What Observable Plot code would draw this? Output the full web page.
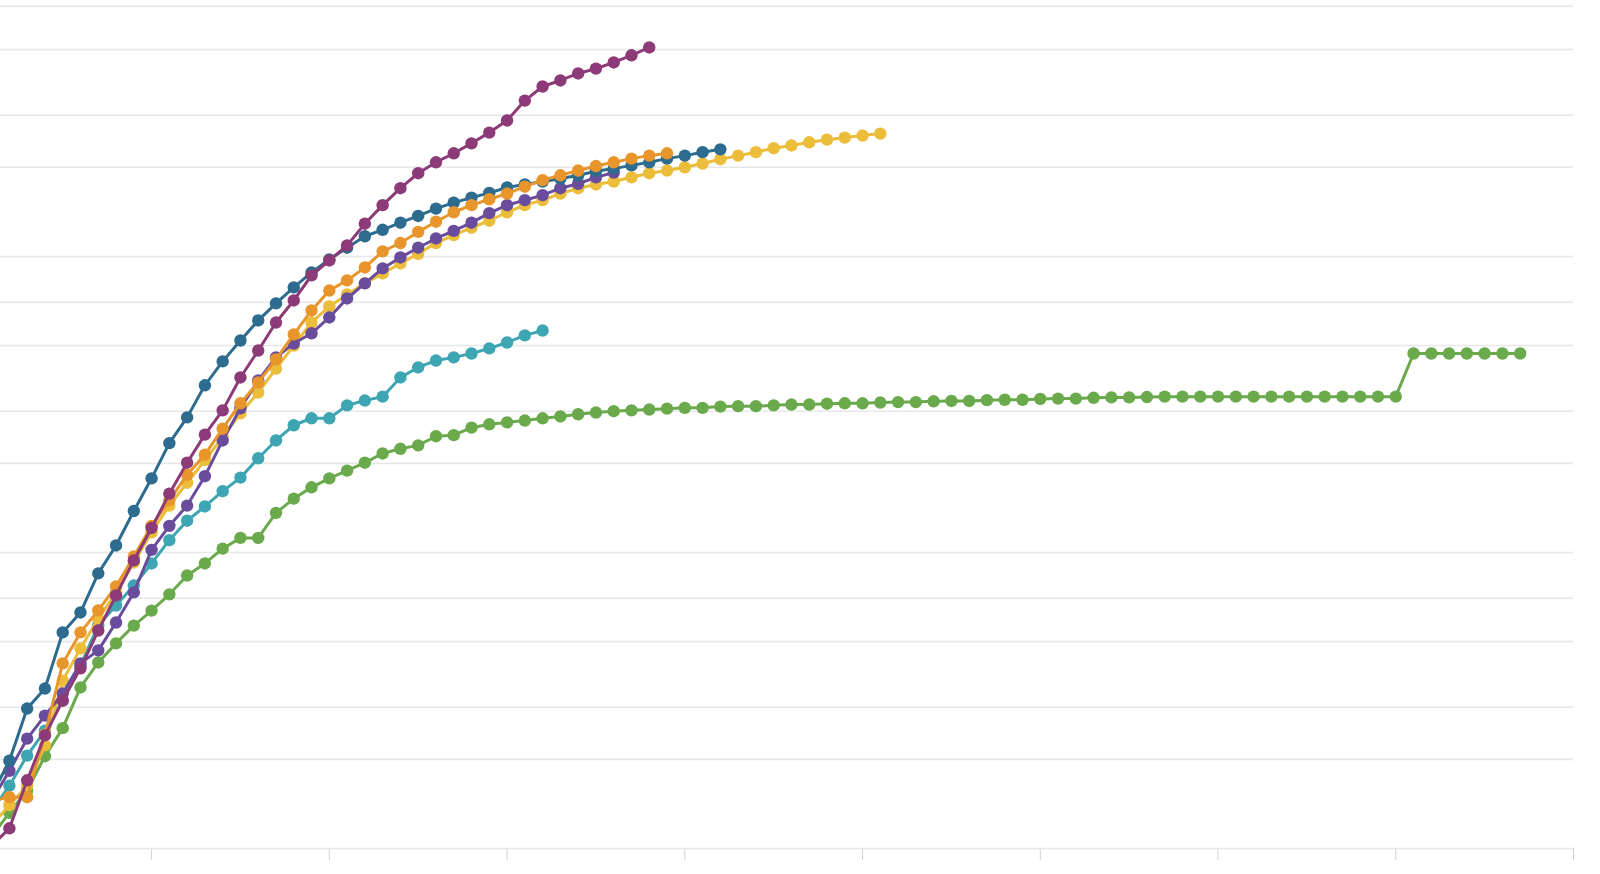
<!DOCTYPE html>
<html><head><meta charset="utf-8">
<script src="https://cdn.jsdelivr.net/npm/d3@7"></script>
<script src="https://cdn.jsdelivr.net/npm/@observablehq/plot@0.6"></script>
<style>html,body{margin:0;padding:0;background:#fff;} svg{display:block}</style>
</head><body><div id="chart"></div>
<script>
// Each series starts at day 1; one value per day.
const seriesG = [1.10, 1.32, 1.57, 2.05, 2.55, 3.50, 4.25, 4.93, 5.66, 6.36, 7.22, 8.36, 9.18, 10.3, 11.2, 11.2, 13.6, 15.2, 16.6, 17.8,
  18.9, 20.1, 21.6, 22.4, 23.0, 24.7, 24.9, 26.4, 27.1, 27.5, 27.9, 28.4, 28.8, 29.3, 29.7, 30.0, 30.2, 30.4, 30.6, 30.8,
  30.8, 31.1, 31.2, 31.2, 31.4, 31.6, 31.6, 31.8, 31.9, 31.9, 32.1, 32.2, 32.2, 32.4, 32.5, 32.5, 32.7, 32.8, 32.8, 33.0,
  33.1, 33.1, 33.3, 33.4, 33.4, 33.5, 33.6, 33.6, 33.6, 33.6, 33.6, 33.6, 33.6, 33.6, 33.6, 33.6, 33.6, 33.6, 33.6, 33.6,
  47.0, 47.0, 47.0, 47.0, 47.0, 47.0, 47.0];
const seriesF = [1.34, 1.63, 2.06, 2.50, 3.16, 4.15, 5.67, 6.62, 7.73, 9.18, 11.0, 12.8, 14.3, 16.1, 17.9, 20.8, 23.9, 26.9, 28.4, 28.4,
  31.4, 32.6, 33.6, 39.0, 42.2, 44.5, 45.6, 47.0, 48.9, 51.2, 54.1, 56.2];
const seriesE = [1.20, 1.40, 1.63, 2.23, 3.69, 4.74, 5.98, 7.32, 9.25, 11.7, 14.4, 17.2, 20.5, 24.5, 29.5, 34.7, 41.8, 50.0, 59.8, 67.8,
  74.4, 81.1, 87.6, 94.7, 102, 111, 118, 125, 132, 141, 149, 155, 163, 170, 175, 179, 185, 191, 195, 200,
  206, 213, 219, 225, 232, 237, 243, 248, 252, 256, 260];
const seriesD = [1.45, 1.83, 2.35, 2.81, 3.34, 4.22, 4.67, 5.80, 7.33, 10.2, 12.3, 14.4, 18.1, 23.9, 30.7, 38.1, 45.6, 50.8, 55.0, 62.2,
  72.1, 81.1, 91.1, 99.2, 107, 115, 122, 130, 140, 149, 155, 161, 170, 176, 185, 192];
const seriesC = [1.51, 1.98, 2.97, 3.47, 5.37, 6.27, 8.50, 10.56, 13.8, 17.8, 23.4, 28.6, 36.7, 44.2, 52.0, 60.8, 69.4, 78.6, 88.3, 97.7,
  107, 117, 123, 130, 137, 145, 152, 158, 164, 171, 175, 179, 183, 188, 194, 198, 203, 208, 214, 219, 225, 230];
const seriesB = [1.45, 1.49, 1.49, 2.43, 4.22, 5.37, 6.37, 7.68, 9.69, 12.3, 15.0, 18.3, 21.4, 26.2, 31.9, 37.5, 44.9, 54.5, 65.7, 76.7,
  83.0, 91.8, 104, 111, 121, 131, 141, 149, 156, 163, 172, 181, 188, 195, 202, 208, 214, 219, 223];
const seriesA = [1.02, 1.17, 1.70, 2.41, 3.16, 4.06, 5.45, 7.16, 9.40, 12.1, 15.8, 20.1, 25.0, 30.2, 39.0, 48.1, 59.8, 71.0, 86.3, 96.9,
  109, 129, 149, 170, 191, 208, 223, 241, 262, 288, 336, 375, 393, 415, 431, 452, 478, 508];

// drawing order: bottom to top
const seriesNames = ["Series G", "Series F", "Series E", "Series D", "Series C", "Series B", "Series A"];
const seriesColors = ["#6aaa4c", "#3ea5b2", "#ebbd3a", "#6a4c9c", "#2d6c8e", "#e8962c", "#8c3a78"];
const seriesValues = [seriesG, seriesF, seriesE, seriesD, seriesC, seriesB, seriesA];
const xTicks = [10, 20, 30, 40, 50, 60, 70, 80, 90];
const gridValues = [1, 2, 3, 5, 7, 10, 20, 30, 50, 70, 100, 200, 300, 500, 700];

const rows = [];
seriesNames.forEach((name, k) => {
  seriesValues[k].forEach((v, i) => rows.push({series: name, day: i + 1, value: v}));
});

const seriesMarks = seriesNames.flatMap(name => {
  const sub = rows.filter(r => r.series === name);
  return [
    Plot.line(sub, {x: "day", y: "value", stroke: "series", strokeWidth: 3, clip: true}),
    Plot.dot(sub, {x: "day", y: "value", fill: "series", r: 6.2, clip: true})
  ];
});

const chart = Plot.plot({
  width: 1600, height: 874,
  marginTop: 0, marginRight: 27, marginBottom: 26, marginLeft: 0,
  style: {background: "#fff", color: "#d2d2d2"},
  x: {domain: [1.5, 90], ticks: xTicks, tickSize: 12, tickFormat: () => "", label: null},
  y: {type: "log", domain: [1, 732], axis: null},
  color: {domain: seriesNames, range: seriesColors},
  marks: [
    Plot.ruleY(gridValues, {stroke: "#e8e8e8", strokeWidth: 1.6}),
    ...seriesMarks
  ]
});
document.getElementById("chart").appendChild(chart);
</script>
</body></html>
